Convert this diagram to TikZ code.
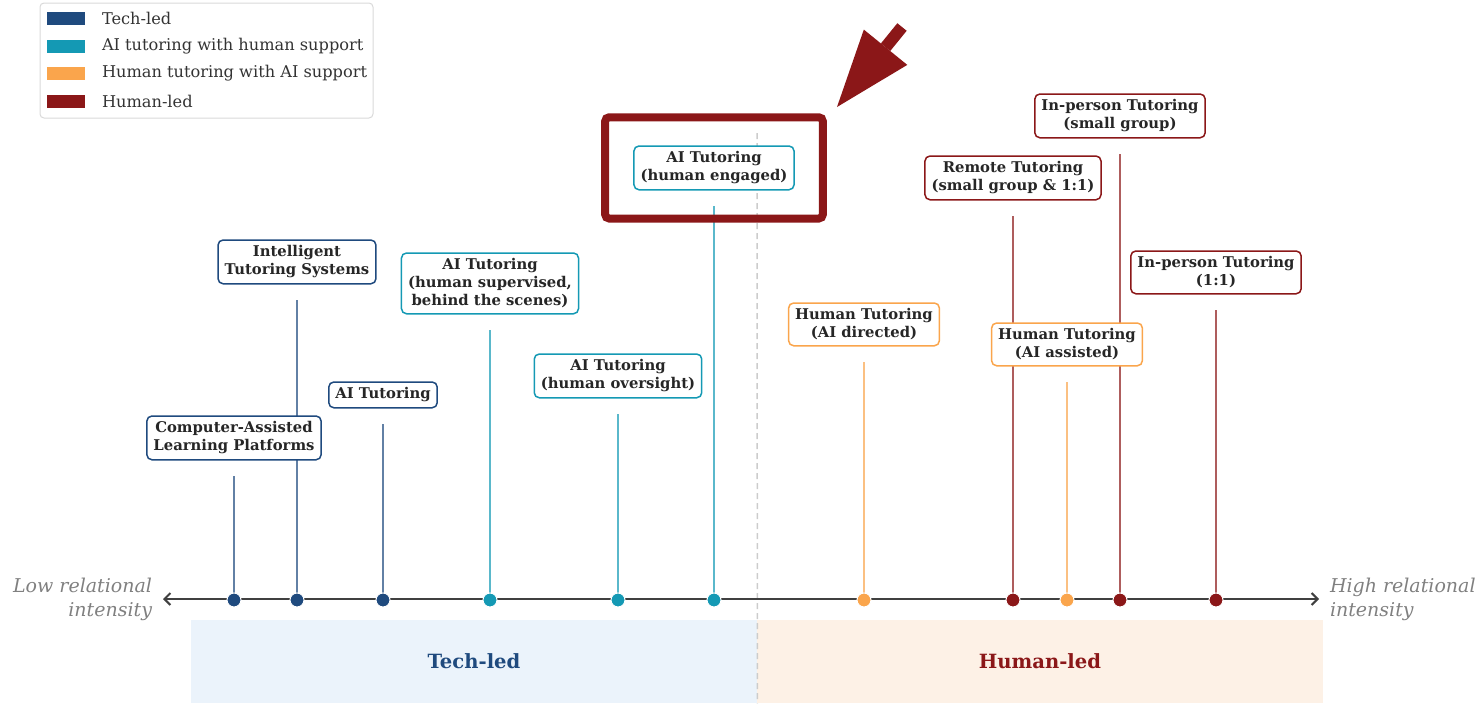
\documentclass[tikz,border=0pt]{standalone}
\usepackage{fontspec}
\setmainfont{DejaVu Serif}
\tikzset{
every picture/.style={
line width=1pt
}}
\usetikzlibrary{positioning, fit, arrows.meta}
\definecolor{techblue}{HTML}{1F4A7E}
\definecolor{aiteal}{HTML}{1499B4}
\definecolor{humorange}{HTML}{FAA54C}
\definecolor{humred}{HTML}{8B1718}
\definecolor{bandblue}{HTML}{EBF3FB}
\definecolor{bandpeach}{HTML}{FDF1E6}
\pgfdeclarelayer{background}
\pgfsetlayers{background,main}

\begin{document}
\begin{tikzpicture}[x=0.5pt, y=-0.5pt,
lblbox/.style = {rectangle, draw=#1, fill=white, rounded corners=2.5pt, line width=0.75pt, align=center,
  text=black!85, font=\fontsize{7.4}{9}\selectfont\bfseries, inner xsep=3.3pt, inner ysep=2.8pt},
dot/.style = {circle, fill=#1, draw=white, line width=0.5pt, minimum size=7pt, inner sep=0pt},
stem/.style = {draw=#1!70, line width=1pt, shorten >=7.5pt},
band/.style = {rectangle, inner sep=0pt, minimum width=283pt, minimum height=41.5pt, font=\fontsize{9.8}{12}\selectfont\bfseries},
swatch/.style = {rectangle, inner sep=0pt, minimum width=19pt, minimum height=6.5pt},
legtext/.style = {inner sep=0pt, text=black!80, font=\fontsize{8.1}{10}\selectfont},
axislbl/.style = {inner sep=0pt, text=black!50, font=\fontsize{9.5}{12}\selectfont\itshape}]

  \useasboundingbox (0,0) rectangle (1480,707);

  % legend
  \node[draw=black!15, rounded corners=2pt, line width=0.5pt, minimum width=166.5pt, minimum height=57.5pt] (legend) at (206.5,60.5) {};
  \node[swatch, fill=techblue]  (s1) at (66,18.5) {};
  \node[swatch, fill=aiteal]    (s2) at (66,46) {};
  \node[swatch, fill=humorange] (s3) at (66,73) {};
  \node[swatch, fill=humred]    (s4) at (66,101) {};
  \node[legtext, right=7.5pt of s1] (t1) {Tech-led};
  \node[legtext, right=7.5pt of s2] (t2) {AI tutoring with human support};
  \node[legtext, right=7.5pt of s3] (t3) {Human tutoring with AI support};
  \node[legtext, right=7.5pt of s4] (t4) {Human-led};

  % axis
  \node[axislbl, anchor=east, align=right] (low) at (153,599) {Low relational\\intensity};
  \node[axislbl, anchor=west, align=left] (high) at (1329,599) {High relational\\intensity};
  \draw[black!75, line width=1pt, {Straight Barb[length=3pt,width=6pt]}-{Straight Barb[length=3pt,width=6pt]},
    shorten <=5pt, shorten >=5pt] (low) -- (high);

  \node[dot=techblue]  (d1)  at (234,600) {};
  \node[dot=techblue]  (d2)  at (297,600) {};
  \node[dot=techblue]  (d3)  at (383,600) {};
  \node[dot=aiteal]    (d4)  at (490,600) {};
  \node[dot=aiteal]    (d5)  at (618,600) {};
  \node[dot=aiteal]    (d6)  at (714,600) {};
  \node[dot=humorange] (d7)  at (864,600) {};
  \node[dot=humred]    (d8)  at (1013,600) {};
  \node[dot=humorange] (d9)  at (1067,600) {};
  \node[dot=humred]    (d10) at (1120,600) {};
  \node[dot=humred]    (d11) at (1216,600) {};

  \node[lblbox=techblue,  above=66pt of d1]  (b1)  {Computer-Assisted\\Learning Platforms};
  \node[lblbox=techblue,  above=154pt of d2] (b2)  {Intelligent\\Tutoring Systems};
  \node[lblbox=techblue,  above=92pt of d3]  (b3)  {AI Tutoring};
  \node[lblbox=aiteal,    above=139pt of d4] (b4)  {AI Tutoring\\(human supervised,\\behind the scenes)};
  \node[lblbox=aiteal,    above=97pt of d5]  (b5)  {AI Tutoring\\(human oversight)};
  \node[lblbox=aiteal,    above=201pt of d6] (b6)  {AI Tutoring\\(human engaged)};
  \node[lblbox=humorange, above=123pt of d7] (b7)  {Human Tutoring\\(AI directed)};
  \node[lblbox=humred,    above=196pt of d8] (b8)  {Remote Tutoring\\(small group \& 1:1)};
  \node[lblbox=humorange, above=113pt of d9] (b9)  {Human Tutoring\\(AI assisted)};
  \node[lblbox=humred,    above=227pt of d10] (b10) {In-person Tutoring\\(small group)};
  \node[lblbox=humred,    above=149pt of d11] (b11) {In-person Tutoring\\(1:1)};

  \begin{pgfonlayer}{background}
    \node[band, fill=bandblue, text=techblue] (techband) at (474,661.5) {Tech-led};
    \node[band, fill=bandpeach, text=humred]  (humband)  at (1040,661.5) {Human-led};
    \coordinate (divtop) at (757,133);
    \draw[black!20, line width=0.75pt, dash pattern=on 3pt off 2pt] (divtop) -- (techband.south east);
    \draw[stem=techblue]  (d1)  -- (d1 |- b1.south);
    \draw[stem=techblue]  (d2)  -- (d2 |- b2.south);
    \draw[stem=techblue]  (d3)  -- (d3 |- b3.south);
    \draw[stem=aiteal]    (d4)  -- (d4 |- b4.south);
    \draw[stem=aiteal]    (d5)  -- (d5 |- b5.south);
    \draw[stem=aiteal]    (d6)  -- (d6 |- b6.south);
    \draw[stem=humorange] (d7)  -- (d7 |- b7.south);
    \draw[stem=humred]    (d8)  -- (d8 |- b8.south);
    \draw[stem=humorange] (d9)  -- (d9 |- b9.south);
    \draw[stem=humred]    (d10) -- (d10 |- b10.south);
    \draw[stem=humred]    (d11) -- (d11 |- b11.south);
  \end{pgfonlayer}

  % highlight
  \node[draw=humred, line width=4pt, rounded corners=2pt, inner xsep=14pt, inner ysep=14pt, fit=(b6)] (hl) {};
  \coordinate (arrtail) at (902,27);
  \coordinate (arrtip) at (837,107);
  \draw[humred, line width=6pt, -{Triangle[length=38.5pt, width=28pt, line width=0pt]}] (arrtail) -- (arrtip);

\end{tikzpicture}
\end{document}
